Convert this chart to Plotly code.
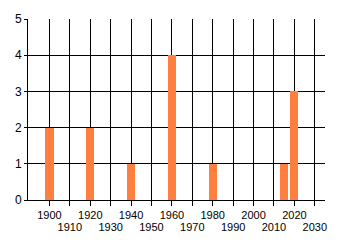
import plotly.graph_objects as go

years = [1900, 1920, 1940, 1960, 1980, 2015, 2020]
counts = [2, 2, 1, 4, 1, 1, 3]
even_ticks = [1900, 1920, 1940, 1960, 1980, 2000, 2020]
odd_ticks = [1910, 1930, 1950, 1970, 1990, 2010, 2030]
y_ticks = [0, 1, 2, 3, 4, 5]

font = dict(family="Liberation Sans, Arial, sans-serif", size=11, color="#000000")

fig = go.Figure()
fig.add_trace(go.Bar(x=years, y=counts, width=4, marker=dict(color="#FF7F40", line=dict(width=0)),
                     showlegend=False))
fig.add_trace(go.Scatter(x=[], y=[], xaxis="x2", yaxis="y", showlegend=False))

xr = [1889.5, 2035]
fig.update_layout(
    width=340, height=245,
    margin=dict(l=28, r=15, t=15, b=44),
    paper_bgcolor="white", plot_bgcolor="white",
    font=font,
    bargap=0,
    xaxis=dict(range=xr, tickmode="array", tickvals=even_ticks + odd_ticks,
               ticktext=[str(v) for v in even_ticks] + ["" for v in odd_ticks],
               showgrid=True, gridcolor="black", gridwidth=1,
               showline=True, linecolor="black", linewidth=1,
               ticks="outside", ticklen=5, tickcolor="black",
               zeroline=False, tickfont=font, fixedrange=True),
    xaxis2=dict(range=xr, overlaying="x", side="bottom", tickmode="array",
                tickvals=odd_ticks, ticktext=[str(v) for v in odd_ticks],
                showgrid=False, showline=False, ticks="", ticklabelstandoff=19,
                zeroline=False, tickfont=font),
    yaxis=dict(range=[0, 5], tickmode="array", tickvals=y_ticks,
               ticktext=[str(v) for v in y_ticks],
               showgrid=True, gridcolor="black", gridwidth=1,
               showline=True, linecolor="black", linewidth=1,
               ticks="outside", ticklen=3, tickcolor="black",
               zeroline=False, tickfont=dict(family="Liberation Sans, Arial, sans-serif", size=12, color="#000000")),
)
fig.write_html("out.html")
